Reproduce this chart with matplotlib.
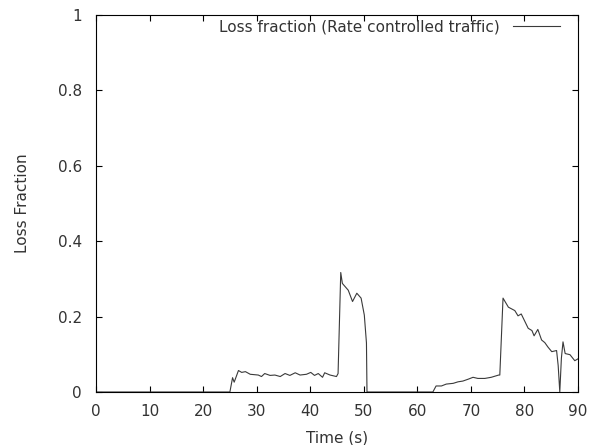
import matplotlib
matplotlib.use('Agg')
import matplotlib.pyplot as plt

# (time in s, loss fraction)
time_s = [0, 25.0, 25.5, 25.8, 26.6, 27.2, 27.9, 28.8, 30.3, 30.9, 31.5, 32.5,
          33.4, 34.4, 35.3, 36.2, 37.2, 38.1, 39.3, 40.1, 40.8, 41.5, 42.3,
          42.7, 43.7, 44.9, 45.2, 45.7, 46.0, 47.1, 47.9, 48.7, 49.5, 50.1,
          50.5, 50.6, 62.9, 63.5, 64.5, 65.4, 66.7, 67.6, 68.5, 69.5, 70.4,
          71.3, 72.6, 73.8, 75.2, 75.4, 76.0, 77.0, 78.2, 78.8, 79.4, 80.7,
          81.4, 81.8, 82.5, 83.2, 83.8, 84.4, 85.1, 86.0, 86.3, 86.6, 86.9,
          87.2, 87.6, 88.5, 89.4, 90.0]
loss = [0, 0, 0.038, 0.026, 0.057, 0.052, 0.054, 0.047, 0.045, 0.041, 0.049,
        0.044, 0.045, 0.041, 0.049, 0.044, 0.051, 0.045, 0.047, 0.052, 0.044,
        0.049, 0.039, 0.051, 0.045, 0.041, 0.049, 0.317, 0.288, 0.27, 0.24,
        0.262, 0.249, 0.204, 0.13, 0, 0, 0.016, 0.016, 0.021, 0.023, 0.027,
        0.029, 0.034, 0.039, 0.036, 0.036, 0.039, 0.045, 0.045, 0.249, 0.225,
        0.216, 0.202, 0.207, 0.169, 0.163, 0.149, 0.166, 0.138, 0.131, 0.119,
        0.107, 0.11, 0.07, 0.0, 0.09, 0.133, 0.102, 0.099, 0.083, 0.088]

plt.rcParams['font.family'] = ['DejaVu Sans']
plt.rcParams['font.size'] = 11
text_col = '#333333'

fig = plt.figure(figsize=(5.97, 4.45), dpi=100)
ax = fig.add_axes([96 / 597, 53 / 445, 482 / 597, 377 / 445])

ax.plot(time_s, loss, color='#3a3a3a', lw=0.8,
        label='Loss fraction (Rate controlled traffic)')

ax.set_xlim(0, 90)
ax.set_ylim(0, 1)
ax.set_xticks(range(0, 91, 10))
ax.set_yticks([0, 0.2, 0.4, 0.6, 0.8, 1])
ax.set_yticklabels(['0', '0.2', '0.4', '0.6', '0.8', '1'])
ax.tick_params(direction='in', top=True, right=True, length=4, width=0.8,
               color='black', labelcolor=text_col)
ax.tick_params(axis='y', pad=10)
ax.tick_params(axis='x', pad=9)
for s in ax.spines.values():
    s.set_linewidth(0.8)

ax.set_xlabel('Time (s)', labelpad=8, color=text_col)
ax.set_ylabel('Loss Fraction', labelpad=20, color=text_col)

leg = ax.legend(loc='upper right', bbox_to_anchor=(1 - 18 / 482, 1 - 4 / 377),
                frameon=False, markerfirst=False, handlelength=3.1,
                handletextpad=0.85, borderpad=0, borderaxespad=0)
for t in leg.get_texts():
    t.set_color(text_col)

fig.savefig('out.png', dpi=100)
